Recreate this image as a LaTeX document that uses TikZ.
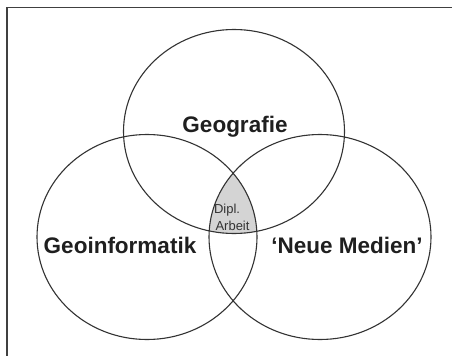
\documentclass[tikz,border=0pt]{standalone}
\usepackage{fontspec}
\setmainfont{Liberation Sans}
\begin{document}
\begin{tikzpicture}[x=1pt,y=-1pt,
  venn/.style={draw=black!80,line width=1.1pt},
  frameline/.style={draw=black!75,line width=1.6pt},
  biglabel/.style={font=\fontsize{22.5}{24}\selectfont\bfseries,text=black!88,inner sep=0pt,anchor=base},
  smalllabel/.style={font=\fontsize{13}{14}\selectfont,text=black!80,inner sep=0pt,anchor=base}]
\useasboundingbox (0,0) rectangle (452,356);
\fill[white] (0,0) rectangle (452,356);
% outer frame: top and left edges only
\coordinate (fa) at (452,7.5);
\coordinate (fb) at (7,7.5);
\coordinate (fc) at (7,356);
\draw[frameline] (fa) -- (fb) -- (fc);
% centres of the three sets
\coordinate (top) at (234,131.5);
\coordinate (left) at (147,237);
\coordinate (right) at (320,237);
% shaded common region of all three sets
\begin{scope}
  \clip (top) ellipse [x radius=110.5,y radius=102];
  \clip (left) ellipse [x radius=110,y radius=102.5];
  \fill[black!17] (right) ellipse [x radius=111,y radius=102.5];
  \node[smalllabel] (dipl) at (227,213) {Dipl.};
  \node[smalllabel] (arbeit) at (232.5,230) {Arbeit};
\end{scope}
\draw[venn] (top) ellipse [x radius=110.5,y radius=102];
\draw[venn] (left) ellipse [x radius=110,y radius=102.5];
\draw[venn] (right) ellipse [x radius=111,y radius=102.5];
% set names
\node[biglabel] (geo) at (235,132) {Geografie};
\node[biglabel] (gi) at (120,253) {Geoinformatik};
\node[biglabel] (nm) at (347,253) {‘Neue Medien’};
\end{tikzpicture}
\end{document}
